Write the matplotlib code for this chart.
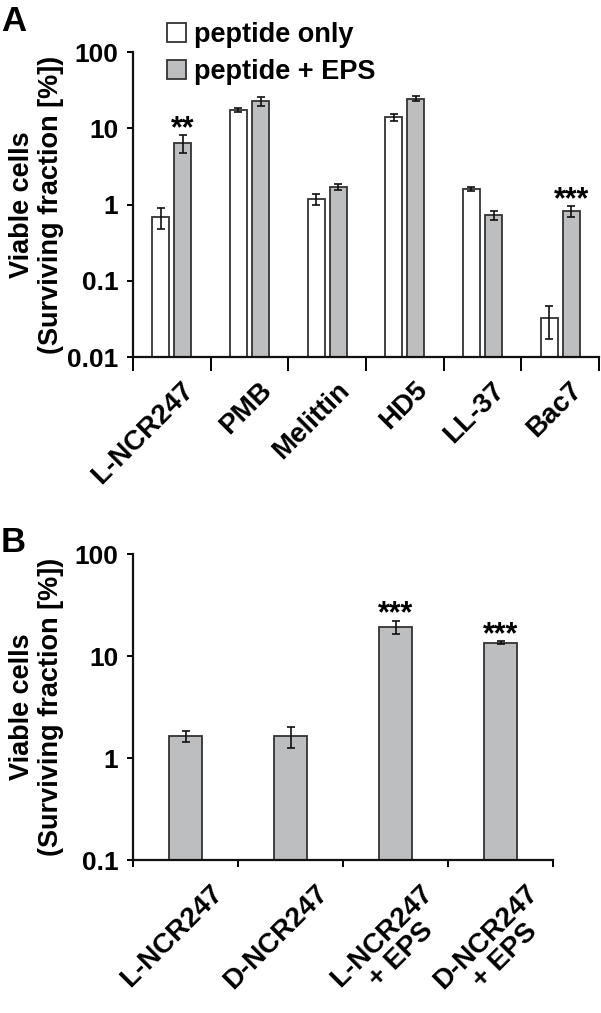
import numpy as np
import matplotlib
matplotlib.use('Agg')
import matplotlib.pyplot as plt
from matplotlib.ticker import FixedLocator, NullFormatter
from matplotlib.patches import Patch
from matplotlib.transforms import ScaledTranslation

plt.rcParams['font.family'] = ['Liberation Sans', 'DejaVu Sans']
plt.rcParams['font.weight'] = 'bold'

# panel A data
peptides = ['L-NCR247', 'PMB', 'Melittin', 'HD5', 'LL-37', 'Bac7']
only_val = [0.69, 17.6, 1.18, 13.9, 1.61, 0.032]
only_err = [0.21, 1.1, 0.2, 1.4, 0.1, 0.015]
eps_val = [6.5, 22.6, 1.71, 24.5, 0.73, 0.83]
eps_err = [1.7, 3.0, 0.17, 2.0, 0.1, 0.14]
stars_a = ['**', '', '', '', '', '***']

# panel B data
cond_b = ['L-NCR247', 'D-NCR247', 'L-NCR247\n+ EPS', 'D-NCR247\n+ EPS']
val_b = [1.63, 1.63, 19.2, 13.5]
err_b = [0.2, 0.38, 2.8, 0.4]
stars_b = ['', '', '***', '***']

grey = '#bdbec0'
edge = '#333333'
ekw = dict(elinewidth=1.2, capthick=1.2, ecolor='#111111')

fig = plt.figure(figsize=(6.01, 10.13), dpi=100)
axA = fig.add_axes([133/601, 1 - 357/1013, 466/601, 305/1013])
axB = fig.add_axes([133/601, 1 - 860/1013, 420/601, 306/1013])


def style(ax, n, ticks, xtl, dx, lab_x):
    ax.set_yscale('log')
    ax.set_xlim(-0.5, n - 0.5)
    for s in ['top', 'right']:
        ax.spines[s].set_visible(False)
    for s in ['left', 'bottom']:
        ax.spines[s].set_linewidth(1.6)
        ax.spines[s].set_color('#111111')
    ax.yaxis.set_major_locator(FixedLocator(ticks))
    ax.yaxis.set_minor_locator(FixedLocator([]))
    ax.set_yticklabels([('%g' % t) for t in ticks], fontsize=19, fontweight='bold')
    ax.tick_params(axis='y', direction='out', length=4, width=1.4, pad=6.5)
    ax.xaxis.set_major_locator(FixedLocator(np.arange(n + 1) - 0.5))
    ax.xaxis.set_major_formatter(NullFormatter())
    ax.xaxis.set_minor_locator(FixedLocator(np.arange(n)))
    ax.set_xticklabels(xtl, minor=True, rotation=45, ha='right', va='top',
                       rotation_mode='anchor', fontsize=20, fontweight='bold',
                       multialignment='center', linespacing=1.05)
    ax.tick_params(axis='x', which='minor', length=0, pad=14.4)
    off = ScaledTranslation(dx / 100, 0, fig.dpi_scale_trans)
    for lab in ax.xaxis.get_minorticklabels():
        lab.set_transform(lab.get_transform() + off)
    ax.set_ylabel('Viable cells\n(Surviving fraction [%])', fontsize=19.5,
                  fontweight='bold', linespacing=1.17)
    ax.yaxis.set_label_coords(lab_x, 0.5)


# panel A
x = np.arange(len(peptides))
w = 0.22
d = 0.143
axA.bar(x - d, only_val, w, color='white', edgecolor=edge, linewidth=1.3,
        yerr=only_err, capsize=3, error_kw=ekw)
axA.bar(x + d, eps_val, w, color=grey, edgecolor=edge, linewidth=1.3,
        yerr=eps_err, capsize=3, error_kw=ekw)
axA.set_ylim(0.01, 100)
style(axA, len(peptides), [0.01, 0.1, 1, 10, 100], peptides, 9, (64 - 133) / 466)
axA.tick_params(axis='x', which='major', direction='out', length=10, width=1.4)
for i, s in enumerate(stars_a):
    if s:
        axA.annotate(s, xy=(x[i] + d, eps_val[i] + eps_err[i]), xytext=(0, -2),
                     textcoords='offset points', ha='center', va='baseline',
                     fontsize=22, fontweight='bold')

# legend
handles = [Patch(facecolor='white', edgecolor=edge, linewidth=1.3),
           Patch(facecolor=grey, edgecolor=edge, linewidth=1.3)]
fig.legend(handles, ['peptide only', 'peptide + EPS'], loc='upper left',
           bbox_to_anchor=(167/601, 1 - 22/1013), frameon=False, fontsize=19.5,
           handlelength=0.7, handleheight=0.7, handletextpad=0.28,
           labelspacing=0.42, borderaxespad=0, borderpad=0)

# panel B
xb = np.arange(len(cond_b))
axB.bar(xb, val_b, 0.31, color=grey, edgecolor=edge, linewidth=1.3,
        yerr=err_b, capsize=3, error_kw=ekw)
axB.set_ylim(0.1, 100)
style(axB, len(cond_b), [0.1, 1, 10, 100], cond_b, 24, (64 - 133) / 420)
axB.tick_params(axis='x', which='major', direction='out', length=5, width=1.4)
for i, s in enumerate(stars_b):
    if s:
        axB.annotate(s, xy=(xb[i], val_b[i] + err_b[i]), xytext=(0, -1),
                     textcoords='offset points', ha='center', va='baseline',
                     fontsize=22, fontweight='bold')

fig.text(1/601, 1 - 5/1013, 'A', fontsize=25, fontweight='bold', va='top')
fig.text(1/601, 1 - 526/1013, 'B', fontsize=25, fontweight='bold', va='top')

fig.savefig('out.png', dpi=100)
